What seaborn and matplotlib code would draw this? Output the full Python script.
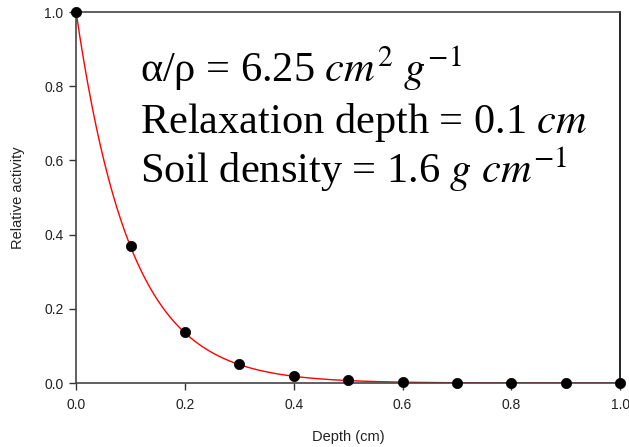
import numpy as np
import pandas as pd
import matplotlib
matplotlib.use("Agg")
import matplotlib.pyplot as plt
import seaborn as sns

# Data
depth = [0.0, 0.1, 0.2, 0.3, 0.4, 0.5, 0.6, 0.7, 0.8, 0.9, 1.0]
activity = [1.0, 0.37, 0.137, 0.051, 0.019, 0.007, 0.003, 0.001, 0.0004, 0.0001, 0.0]
relaxation_depth = 0.1  # cm, as stated in the chart (fitted exponential curve)
x_ticks = [0.0, 0.2, 0.4, 0.6, 0.8, 1.0]
y_ticks = [0.0, 0.2, 0.4, 0.6, 0.8, 1.0]

sns.set_style("ticks")
plt.rcParams["font.family"] = ["Liberation Sans", "DejaVu Sans"]
plt.rcParams["mathtext.fontset"] = "stix"

fig = plt.figure(figsize=(6.29, 4.47), dpi=100)
ax = fig.add_axes([0.121, 0.143, 0.865, 0.830])

# fitted curve
xf = np.linspace(0, 1, 400)
fit = pd.DataFrame({"x": xf, "y": np.exp(-xf / relaxation_depth)})
sns.lineplot(data=fit, x="x", y="y", ax=ax, color="red", linewidth=1.0, zorder=2)

df = pd.DataFrame({"Depth": depth, "Activity": activity})
sns.scatterplot(data=df, x="Depth", y="Activity", ax=ax, color="black", s=55,
                edgecolor="black", linewidth=0.5, zorder=3, clip_on=False)

ax.set_xlim(0, 1)
ax.set_ylim(0, 1)
ax.set_xticks(x_ticks)
ax.set_yticks(y_ticks)
ax.set_xticklabels([f"{t:.1f}" for t in x_ticks])
ax.set_yticklabels([f"{t:.1f}" for t in y_ticks])
ax.tick_params(axis="both", direction="out", length=5, width=1, labelsize=10,
               colors="#333333", labelcolor="#222222", pad=4)
ax.tick_params(axis="x", pad=6)
for s in ax.spines.values():
    s.set_visible(True)
    s.set_linewidth(1.2)
    s.set_color("#444444")
ax.spines["right"].set_color("black")

ax.set_xlabel("Depth (cm)", fontsize=10.5, labelpad=13, color="#222222")
ax.set_ylabel("Relative activity", fontsize=10.5, labelpad=14, color="#222222")

lines = [
    r"α/ρ = 6.25 $cm^2\ g^{-1}$",
    r"Relaxation depth = 0.1 $cm$",
    r"Soil density = 1.6 $g\ cm^{-1}$",
]
for i, t in enumerate(lines):
    ax.text(0.118, 0.811 - i * 0.136, t, transform=ax.transAxes,
            fontsize=30.5, family=["Liberation Serif", "DejaVu Serif"],
            va="baseline", ha="left", color="black")

fig.savefig("out.png", dpi=100)
